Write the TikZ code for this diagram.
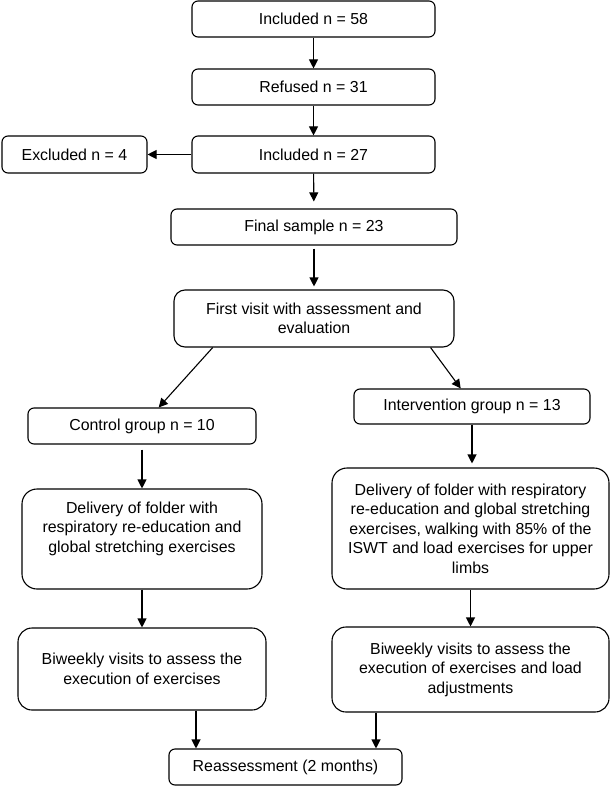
\documentclass[tikz,border=0pt]{standalone}
\usepackage{fontspec}
\setmainfont{Liberation Sans}
\usetikzlibrary{arrows.meta}
\begin{document}
\begin{tikzpicture}[x=1pt,y=-1pt]
        \tikzset{box/.style = {draw,rounded corners=6pt,minimum height=36pt,inner sep=0pt,align=center,font=\fontsize{15.9}{19.5}\selectfont,line width=1.1pt}}
        \tikzset{link/.style = {draw,line width=1.1pt,-{Triangle[length=9pt,width=9pt]}}}

        \fill[white] (0,0) rectangle (610,786);
        \useasboundingbox (0,0) rectangle (610,786);

        \node[box,minimum width=243pt] (inc58) at (313.5,19) {Included n = 58};
        \node[box,minimum width=243pt] (refused) at (313.5,87) {Refused n = 31};
        \node[box,minimum width=243pt,minimum height=37pt] (inc27) at (313.5,154.5) {Included n = 27};
        \node[box,minimum width=145pt,minimum height=37pt] (excl) at (74.5,154.5) {Excluded n = 4};
        \node[box,minimum width=286pt] (final) at (314,227) {Final sample n = 23};
        \node[box,minimum width=280pt,minimum height=57pt,rounded corners=11pt] (first) at (314,318.5) {First visit with assessment and\\evaluation};

        \node[box,minimum width=228pt] (control) at (142,426) {Control group n = 10};
        \node[box,minimum width=236pt,minimum height=35pt] (interv) at (472,406.5) {Intervention group n = 13};

        \node[box,minimum width=240pt,minimum height=100pt,rounded corners=15pt,text depth=24pt] (delivL) at (142,539) {Delivery of folder with\\respiratory re-education and\\global stretching exercises};
        \node[box,minimum width=277pt,minimum height=121pt,rounded corners=15pt] (delivR) at (470.5,528.5) {Delivery of folder with respiratory\\re-education and global stretching\\exercises, walking with 85\% of the\\ISWT and load exercises for upper\\limbs};

        \node[box,minimum width=248pt,minimum height=82pt,rounded corners=14pt] (biL) at (142,669) {Biweekly visits to assess the\\execution of exercises};
        \node[box,minimum width=277pt,minimum height=85pt,rounded corners=14pt] (biR) at (470.5,669.5) {Biweekly visits to assess the\\execution of exercises and load\\adjustments};

        \node[box,minimum width=233pt] (reass) at (285.5,767) {Reassessment (2 months)};

        \draw[link] (inc58) -- (refused);
        \draw[link] (refused) -- (inc27);
        \draw[link] (inc27) -- (excl);
        \draw[link,shorten >=7pt] (inc27) -- (final);
        \draw[link,shorten <=3pt,shorten >=3pt] (final) -- (first);
        \draw[link] (first.196) -- (control.48);
        \draw[link] (first.-14) -- (interv.122);
        \draw[link,shorten <=5pt] (control) -- (delivL);
        \draw[link,shorten >=4pt] (interv) -- (interv |- delivR.north);
        \draw[link] (delivL) -- (biL);
        \draw[link] (delivR) -- (biR);
        \draw[link] ([xshift=-89.5pt]reass.north |- biL.south) -- ([xshift=-89.5pt]reass.north);
        \draw[link] ([xshift=90.5pt]reass.north |- biR.south) -- ([xshift=90.5pt]reass.north);
    \end{tikzpicture}
\end{document}
